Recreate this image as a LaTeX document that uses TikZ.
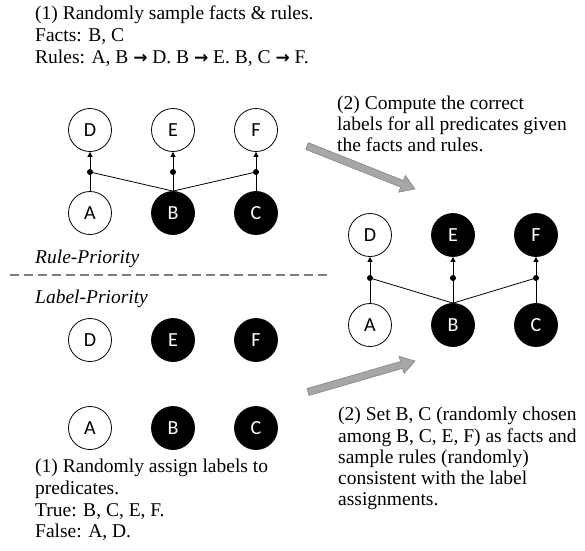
\documentclass[tikz,border=0pt]{standalone}
\usepackage{fontspec}
\setmainfont{Liberation Serif}
\newfontfamily\circfont{Carlito}
\newfontfamily\symfont{DejaVu Sans}
\usetikzlibrary{calc,arrows.meta}
\definecolor{arrgray}{HTML}{A6A6A6}
\definecolor{arredge}{HTML}{858585}
\definecolor{dashgray}{HTML}{7F7F7F}
\newcommand{\rarr}{{\symfont\bfseries\fontsize{17}{19}\selectfont →}}
\tikzset{
  pred/.style={circle, draw=black, line width=0.8pt, minimum size=43pt, inner sep=0pt, font=\circfont\fontsize{20}{22}\selectfont},
  predT/.style={pred, fill=black, text=white},
  predF/.style={pred, fill=white, text=black},
  jdot/.style={circle, fill=black, inner sep=0pt, minimum size=6pt},
  edge/.style={line width=0.8pt},
  upar/.style={line width=0.8pt, -{Triangle[length=5pt,width=5pt]}},
  txt/.style={anchor=base west, inner sep=0pt, font=\fontsize{19.5}{22}\selectfont},
  ital/.style={anchor=base west, inner sep=0pt, font=\itshape\fontsize{19.5}{22}\selectfont},
  bigarrow/.style={fill=arrgray, draw=arredge, line width=0.6pt, line join=miter}
}
\newcommand{\blockarrow}[2]{%
  \draw[bigarrow]
    ($(#1)!3.6pt!90:(#2)$) --
    ($($(#2)!14pt!(#1)$)!3.6pt!-90:(#1)$) --
    ($($(#2)!14pt!(#1)$)!9pt!-90:(#1)$) --
    (#2) --
    ($($(#2)!14pt!(#1)$)!9pt!90:(#1)$) --
    ($($(#2)!14pt!(#1)$)!3.6pt!90:(#1)$) --
    ($(#1)!3.6pt!-90:(#2)$) -- cycle;}
\begin{document}
\begin{tikzpicture}[x=1pt,y=-1pt]
\useasboundingbox (0,0) rectangle (585,550);

% top text
\node[txt] (t1a) at (35,19) {(1) Randomly sample facts \& rules.};
\node[txt] (t1b) at (35,41.5) {Facts: B, C};
\node[txt] (t1c) at (35,63.5) {Rules: A, B \rarr{} D. B \rarr{} E. B, C \rarr{} F.};

% top-left graph
\node[predF] (D1) at (90,130) {D};
\node[predF] (E1) at (173,130) {E};
\node[predF] (F1) at (256,130) {F};
\node[predF] (A1) at (90,213) {A};
\node[predT] (B1) at (173,213) {B};
\node[predT] (C1) at (256,213) {C};
\node[jdot] (j1) at (90,172) {};
\node[jdot] (j2) at (173,172) {};
\node[jdot] (j3) at (256,172) {};
\draw[edge] (A1) -- (j1.center);
\draw[edge] (B1.north) -- (j1.center);
\draw[edge] (B1) -- (j2.center);
\draw[edge] (B1.north) -- (j3.center);
\draw[edge] (C1) -- (j3.center);
\draw[upar] (j1.center) -- (D1);
\draw[upar] (j2.center) -- (E1);
\draw[upar] (j3.center) -- (F1);

\node[ital] (rp) at (35,263) {Rule-Priority};
\coordinate (dl) at (10,275);
\coordinate (dr) at (330,275);
\draw[dashgray, line width=1.5pt, dash pattern=on 9pt off 5pt] (dl) -- (dr);
\node[ital] (lp) at (35,303) {Label-Priority};

% bottom-left nodes
\node[predF] (D2) at (90,340) {D};
\node[predT] (E2) at (173,340) {E};
\node[predT] (F2) at (256,340) {F};
\node[predF] (A2) at (90,428) {A};
\node[predT] (B2) at (173,428) {B};
\node[predT] (C2) at (256,428) {C};

\node[txt] (t3a) at (35,472) {(1) Randomly assign labels to};
\node[txt] (t3b) at (35,494.5) {predicates.};
\node[txt] (t3c) at (35,516) {True: B, C, E, F.};
\node[txt] (t3d) at (35,537.5) {False: A, D.};

% right graph
\node[predF] (D3) at (370,235) {D};
\node[predT] (E3) at (453,235) {E};
\node[predT] (F3) at (536,235) {F};
\node[predF] (A3) at (370,325) {A};
\node[predT] (B3) at (453,325) {B};
\node[predT] (C3) at (536,325) {C};
\node[jdot] (k1) at (370,278) {};
\node[jdot] (k2) at (453,278) {};
\node[jdot] (k3) at (536,278) {};
\draw[edge] (A3) -- (k1.center);
\draw[edge] (B3.north) -- (k1.center);
\draw[edge] (B3) -- (k2.center);
\draw[edge] (B3.north) -- (k3.center);
\draw[edge] (C3) -- (k3.center);
\draw[upar] (k1.center) -- (D3);
\draw[upar] (k2.center) -- (E3);
\draw[upar] (k3.center) -- (F3);

\node[txt] (t2a) at (337,109) {(2) Compute the correct};
\node[txt] (t2b) at (337,130) {labels for all predicates given};
\node[txt] (t2c) at (337,151) {the facts and rules.};

\node[txt] (t4a) at (338,420) {(2) Set B, C (randomly chosen};
\node[txt] (t4b) at (338,442) {among B, C, E, F) as facts and};
\node[txt] (t4c) at (338,463) {sample rules (randomly)};
\node[txt] (t4d) at (338,484) {consistent with the label};
\node[txt] (t4e) at (338,505) {assignments.};

% block arrows
\coordinate (a1s) at (307,146);
\coordinate (a1e) at (415,189);
\coordinate (a2s) at (308,392);
\coordinate (a2e) at (415,361);
\blockarrow{a1s}{a1e}
\blockarrow{a2s}{a2e}
\end{tikzpicture}
\end{document}
